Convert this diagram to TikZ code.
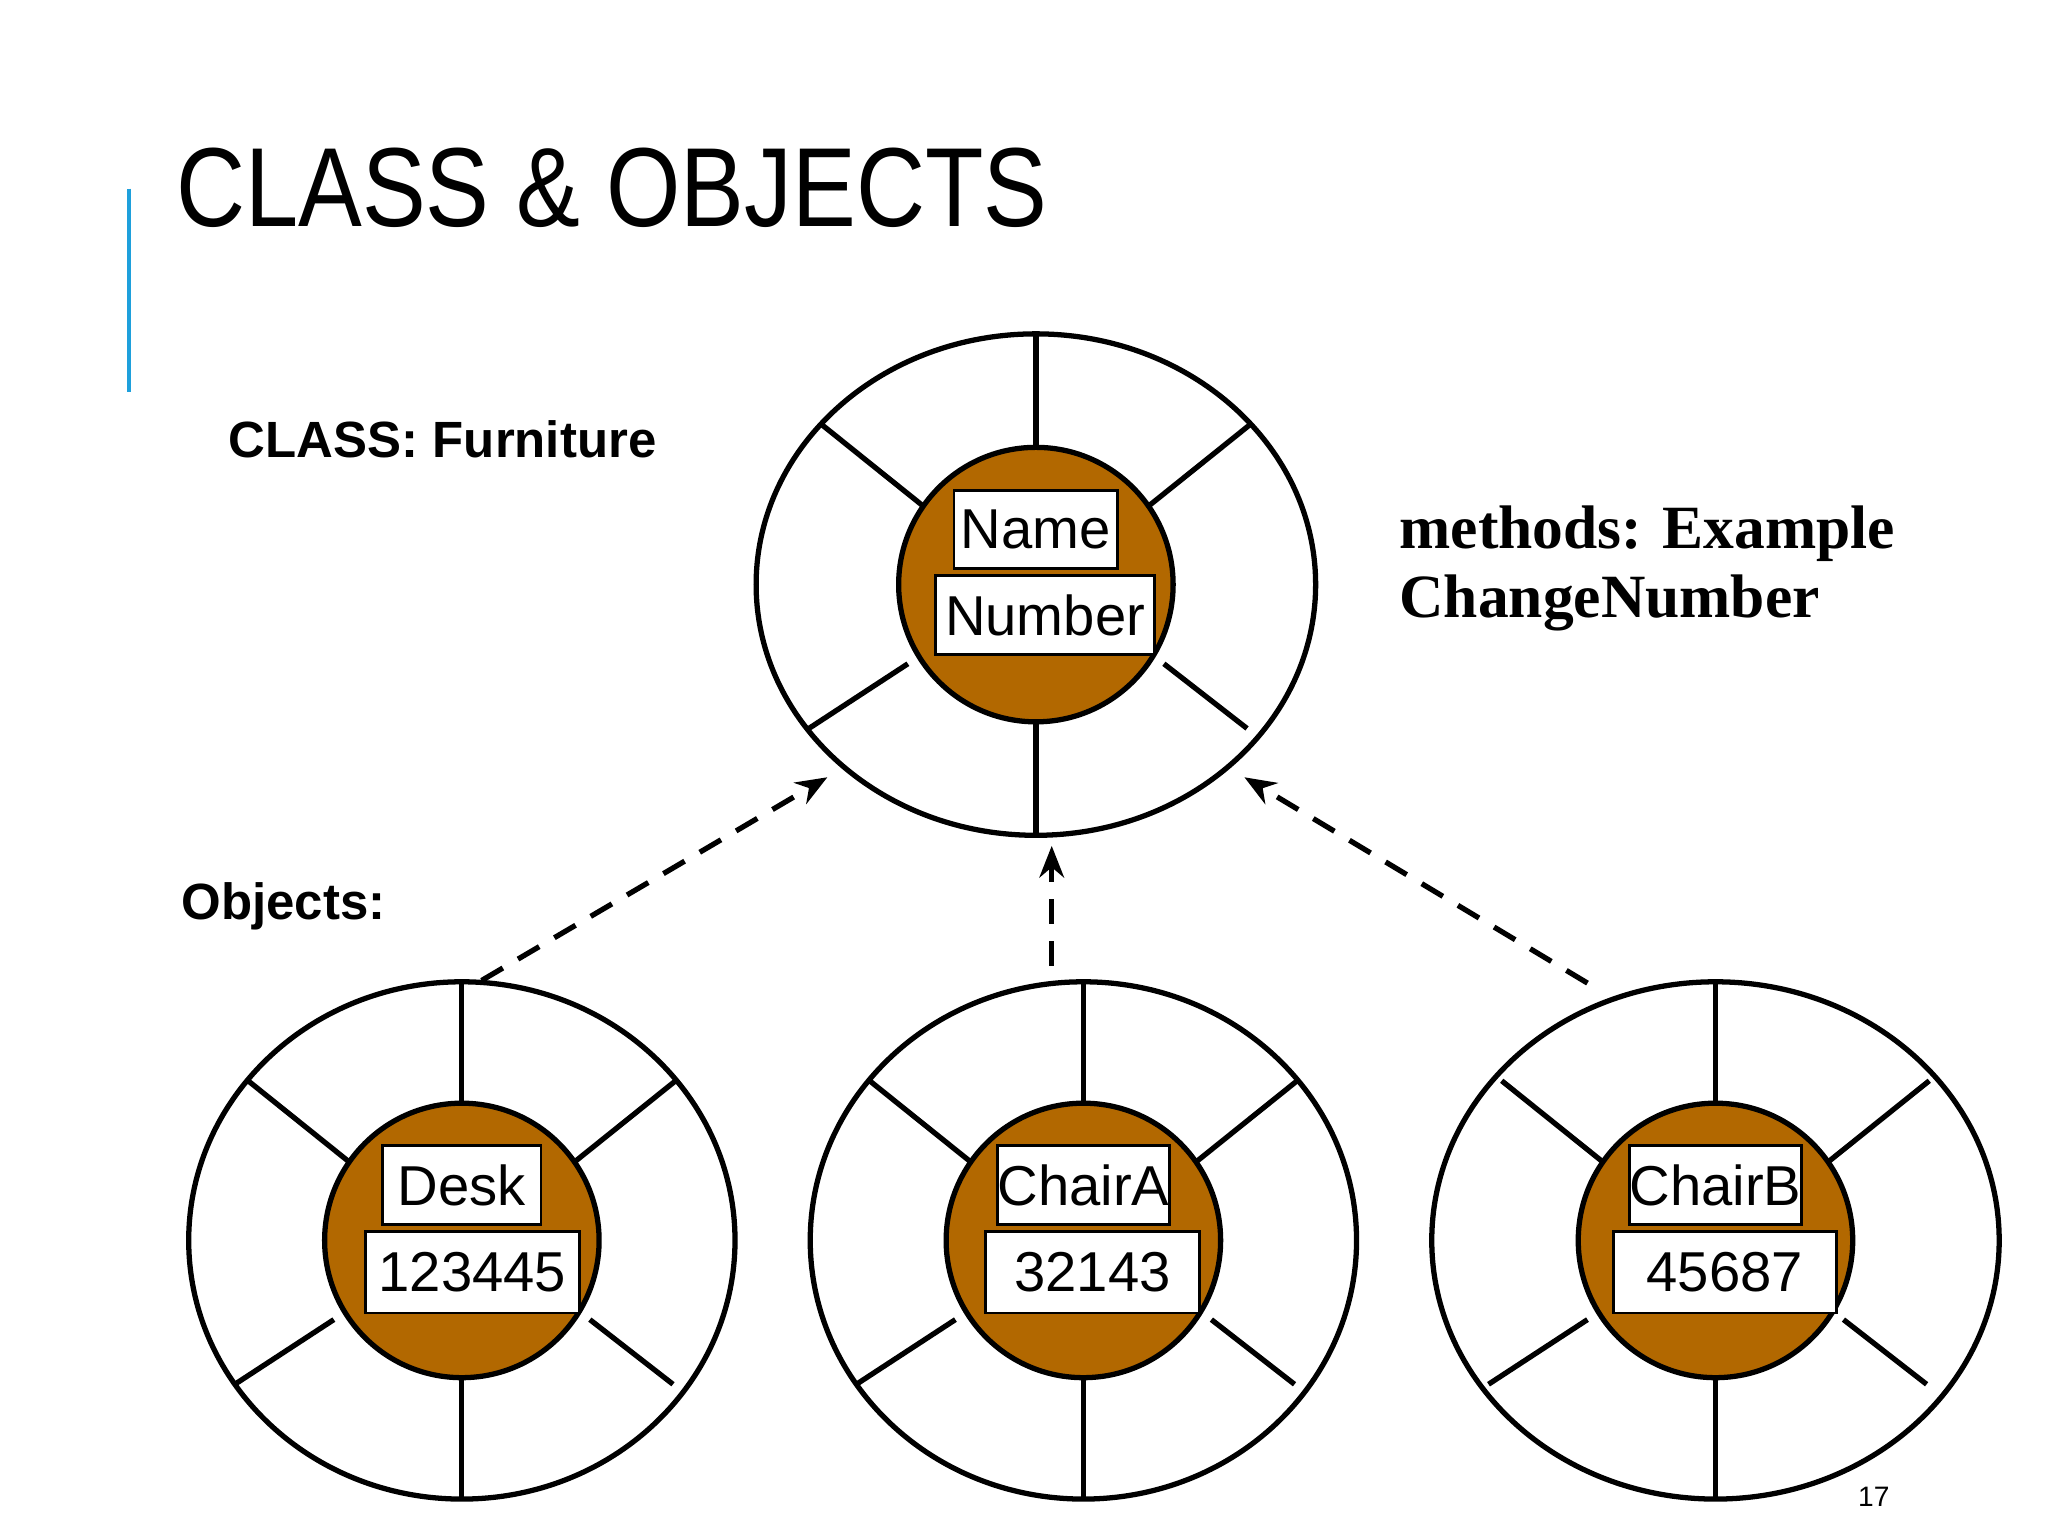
\documentclass[tikz,border=0pt]{standalone}
\usepackage{fontspec}
\setmainfont{Liberation Sans}
\newfontfamily\serifm{Liberation Serif}
\usetikzlibrary{shapes.geometric,arrows.meta}
\definecolor{brownfill}{RGB}{178,104,0}
\definecolor{accent}{RGB}{30,160,220}
\tikzset{
  ln/.style={line width=1.5pt,black},
  outer/.style={ellipse,ln,draw,fill=white,inner sep=0pt},
  core/.style={circle,ln,draw,fill=brownfill,inner sep=0pt,minimum size=208*0.013196cm},
  lbl/.style={draw,line width=0.8pt,fill=white,font=\fontsize{16}{18}\selectfont,inner sep=0pt},
  dep/.style={ln,dash pattern=on 7pt off 5pt,-{Stealth[length=9pt,width=7pt]}},
}
\newcommand{\objcircle}[7]{% name, cx, cy, rx, ry, top, bottom
  \node[outer,minimum width=2*#4*0.013196cm,minimum height=2*#5*0.013196cm] (#1) at (#2,#3) {};
  \begin{scope}[shift={(#2,#3)}]
    \draw[ln] (0,-#5) -- (0,-105);
    \draw[ln] (0,#5) -- (0,105);
    \draw[ln] (-162,-121) -- (-86,-60);
    \draw[ln] (162,-121) -- (86,-60);
    \draw[ln] (-172,109) -- (-97,60);
    \draw[ln] (160,109) -- (97,60);
  \end{scope}
  \node[core] (#1c) at (#2,#3) {};
}
\begin{document}
\begin{tikzpicture}[x=0.013196cm,y=-0.013196cm]
\useasboundingbox (0,0) rectangle (1552,1164);
\fill[white] (0,0) rectangle (1552,1164);
\draw[accent,line width=1.2pt] (98,143) -- (98,297);
\node[anchor=base west,inner sep=0pt,font=\fontsize{32}{36}\selectfont] (title) at (133,172) {\addfontfeature{FakeStretch=0.85}CLASS \& OBJECTS};
\node[anchor=west,inner sep=0pt,font=\bfseries\fontsize{14.5}{17}\selectfont] (cls) at (173,333) {CLASS: Furniture};
\node[anchor=west,inner sep=0pt,font=\bfseries\fontsize{14.5}{17}\selectfont] (objs) at (137,687) {Objects:};
\node[anchor=north west,align=left,inner sep=0pt,font=\serifm\bfseries\fontsize{17.5}{19.5}\selectfont] (meth) at (1060,383) {methods: Example\\ChangeNumber};
\node[font=\fontsize{8}{9}\selectfont,inner sep=0pt] (pg) at (1420,1134) {17};

\objcircle{cl}{785}{443}{212}{190}{}{}
\node[lbl,minimum width=124*0.013196cm,minimum height=59*0.013196cm] (nm) at (785,401.5) {Name};
\node[lbl,minimum width=166*0.013196cm,minimum height=60*0.013196cm] (nb) at (792,466) {Number};

\objcircle{o1}{350}{940}{207}{196}{}{}
\node[lbl,minimum width=120*0.013196cm,minimum height=60*0.013196cm] (o1n) at (350,898) {Desk};
\node[lbl,minimum width=162*0.013196cm,minimum height=62*0.013196cm] (o1v) at (358,964) {123445};

\objcircle{o2}{821}{940}{207}{196}{}{}
\node[lbl,minimum width=120*0.013196cm,minimum height=60*0.013196cm] (o2n) at (821,898) {ChairA};
\node[lbl,minimum width=162*0.013196cm,minimum height=62*0.013196cm] (o2v) at (828,964) {32143};

\objcircle{o3}{1300}{940}{215}{196}{}{}
\node[lbl,minimum width=124*0.013196cm,minimum height=60*0.013196cm] (o3n) at (1300,898) {ChairB};
\node[lbl,minimum width=169*0.013196cm,minimum height=62*0.013196cm] (o3v) at (1307,964) {45687};

\coordinate (a1s) at (365,743); \coordinate (a1e) at (627,589);
\coordinate (a2s) at (797,732); \coordinate (a2e) at (797,641);
\coordinate (a3s) at (1203,745); \coordinate (a3e) at (943,589);
\draw[dep] (a1s) -- (a1e);
\draw[dep] (a2s) -- (a2e);
\draw[dep] (a3s) -- (a3e);
\end{tikzpicture}
\end{document}
